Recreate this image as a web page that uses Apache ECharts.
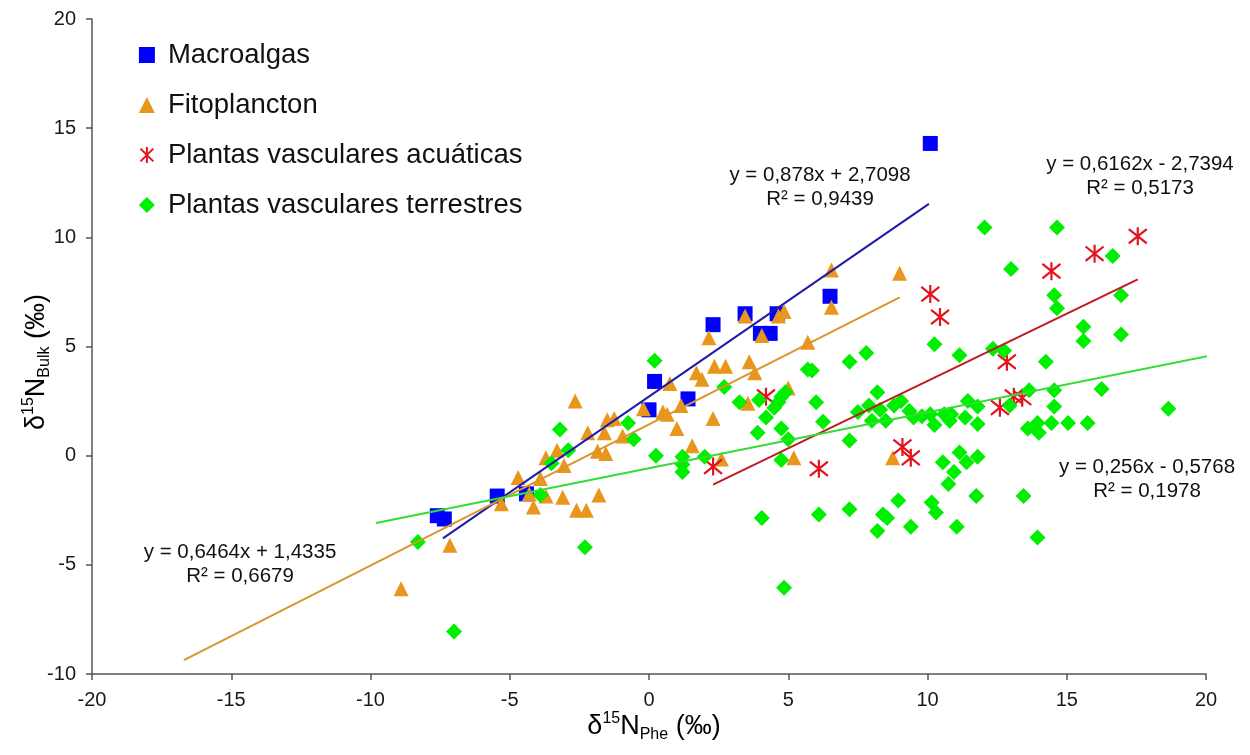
<!DOCTYPE html>
<html>
<head>
<meta charset="utf-8">
<script src="https://cdn.jsdelivr.net/npm/echarts@6/dist/echarts.min.js"></script>
<style>
  html, body { margin: 0; padding: 0; background: #fff; }
  #app { width: 1250px; height: 755px; }
</style>
</head>
<body>
<div id="app"></div>
<script>
// [δ15N Phe, δ15N Bulk]
const macroalgas = [
  [-7.6, -2.75], [-7.35, -2.9], [-5.45, -1.85], [-4.4, -1.75], [0.0, 2.1], [0.2, 3.4],
  [1.4, 2.6], [2.3, 6.0], [3.45, 6.5], [4.0, 5.6], [4.35, 5.6], [4.6, 6.5], [6.5, 7.3], [10.1, 14.3]
];
const fitoplancton = [
  [-8.9, -6.1], [-7.15, -4.1], [-5.3, -2.2], [-4.7, -1.0], [-4.3, -1.75], [-4.15, -2.35],
  [-3.9, -1.05], [-3.7, -1.85], [-3.7, -0.1], [-3.3, 0.25], [-3.05, -0.45], [-3.1, -1.9],
  [-2.65, 2.5], [-2.6, -2.5], [-2.25, -2.5], [-2.2, 1.05], [-1.85, 0.2], [-1.8, -1.8],
  [-1.6, 1.05], [-1.55, 0.1], [-1.5, 1.65], [-1.25, 1.7], [-0.95, 0.9], [-0.2, 2.15],
  [0.5, 2.0], [0.65, 1.9], [0.75, 3.3], [1.0, 1.25], [1.15, 2.3], [1.55, 0.45], [1.7, 3.8],
  [1.9, 3.5], [2.15, 5.4], [2.3, 1.7], [2.35, 4.1], [2.6, -0.15], [2.75, 4.1], [3.45, 6.4],
  [3.55, 2.4], [3.6, 4.3], [3.8, 3.8], [4.05, 5.5], [4.65, 6.4], [4.85, 6.6], [5.0, 3.1],
  [5.2, -0.1], [5.7, 5.2], [6.55, 8.5], [6.55, 6.8], [8.75, -0.1], [9.0, 8.35]
];
const acuaticas = [
  [2.3, -0.5], [4.2, 2.7], [6.1, -0.6], [9.1, 0.4], [9.4, -0.1], [10.1, 7.4], [10.45, 6.35],
  [12.6, 2.2], [12.85, 4.3], [13.1, 2.7], [13.4, 2.65], [14.45, 8.45], [16.0, 9.25], [17.55, 10.05]
];
const terrestres = [
  [-8.3, -3.95], [-7.0, -8.05], [-3.9, -1.8], [-3.5, -0.35], [-3.2, 1.2], [-2.9, 0.25],
  [-2.3, -4.2], [-0.75, 1.5], [-0.55, 0.75], [0.2, 4.35], [0.25, 0.0], [1.2, -0.05],
  [1.2, -0.4], [1.2, -0.75], [2.0, -0.05], [2.7, 3.15], [3.25, 2.45], [3.95, 2.55],
  [3.9, 1.05], [4.05, -2.85], [4.2, 1.75], [4.5, 2.2], [4.65, 2.45], [4.75, 2.7], [4.9, 2.9],
  [4.75, 1.25], [5.0, 0.75], [4.75, -0.2], [4.85, -6.05], [5.7, 3.95], [5.85, 3.9], [6.0, 2.45],
  [6.1, -2.7], [6.25, 1.55], [7.2, 4.3], [7.2, 0.7], [7.2, -2.45], [7.8, 4.7], [7.5, 2.0],
  [7.9, 2.3], [8.0, 1.6], [8.2, 2.9], [8.2, -3.45], [8.3, 2.1], [8.4, -2.7], [8.55, -2.85],
  [8.5, 1.6], [8.8, 2.3], [8.95, -2.05], [9.05, 2.5], [9.35, 2.05], [9.4, -3.25], [9.5, 1.75],
  [9.8, 1.8], [10.1, 1.9], [10.25, 1.4], [10.15, -2.15], [10.25, 5.1], [10.3, -2.6],
  [10.55, -0.3], [10.6, 1.9], [10.75, -1.3], [10.8, 1.6], [10.85, 1.9], [10.95, -0.75],
  [11.05, -3.25], [11.15, 4.6], [11.15, 0.15], [11.35, 1.75], [11.4, -0.3], [11.45, 2.5],
  [11.75, -1.85], [11.8, 2.25], [11.8, 1.45], [11.8, -0.05], [12.05, 10.45], [12.35, 4.9],
  [12.75, 4.8], [12.95, 2.3], [13.0, 8.55], [13.45, -1.85], [13.6, 1.25], [13.65, 3.0],
  [13.95, 1.5], [14.0, 1.05], [13.95, -3.75], [14.25, 4.3], [14.45, 1.5], [14.55, 3.0],
  [14.55, 2.25], [14.55, 7.35], [14.65, 6.75], [14.65, 10.45], [15.05, 1.5], [15.6, 5.9],
  [15.6, 5.25], [15.75, 1.5], [16.25, 3.05], [16.65, 9.15], [16.95, 7.35], [16.95, 5.55],
  [18.65, 2.15]
];

const seriesNames = ['Macroalgas', 'Fitoplancton', 'Plantas vasculares acuáticas', 'Plantas vasculares terrestres'];

// linear trend lines (order as seriesNames)
const trendSlope = [0.878, 0.6464, 0.6162, 0.256];
const trendIntercept = [2.7098, 1.4335, -2.7394, -0.5768];
const trendR2 = [0.9439, 0.6679, 0.5173, 0.1978];
const trendFrom = [-7.4, -16.7, 2.3, -9.8];
const trendTo = [10.05, 9.0, 17.55, 20.5];

const font = "'Liberation Sans', Arial, sans-serif";
const markColors = ['#0000ff', '#e8961c', '#e3141f', '#00ee00'];
const lineColors = ['#1c1ca8', '#d9962c', '#c01a22', '#33dd33'];
const eqPos = [[820, 187], [240, 564], [1140, 176], [1147, 479]];

const fmt = v => String(Math.abs(v)).replace('.', ',');
const eqText = i =>
  `y = ${fmt(trendSlope[i])}x ${trendIntercept[i] < 0 ? '-' : '+'} ${fmt(trendIntercept[i])}\nR² = ${fmt(trendR2[i])}`;

const trendLine = i => [trendFrom[i], trendTo[i]].map(x => [x, trendSlope[i] * x + trendIntercept[i]]);

const titleRich = {
  d: { fontSize: 27, lineHeight: 32, fontFamily: font, color: '#111' },
  sup: { fontSize: 16, lineHeight: 16, verticalAlign: 'top', fontFamily: font, color: '#111' },
  sub: { fontSize: 16, lineHeight: 16, verticalAlign: 'bottom', fontFamily: font, color: '#111' }
};

const axisCommon = {
  type: 'value',
  interval: 5,
  splitLine: { show: false },
  axisLine: { show: true, onZero: false, lineStyle: { color: '#555', width: 1.5 } },
  axisTick: { show: true, length: 6, lineStyle: { color: '#555', width: 1.5 } },
  axisLabel: { fontFamily: font, fontSize: 20, color: '#1a1a1a', margin: 16 }
};

const option = {
  animation: false,
  backgroundColor: '#fff',
  grid: { left: 92, right: 44, top: 19, bottom: 81 },
  xAxis: Object.assign({}, axisCommon, { min: -20, max: 20 }),
  yAxis: Object.assign({}, axisCommon, { min: -10, max: 20 }),
  legend: {
    orient: 'vertical',
    left: 138,
    top: 40,
    padding: 0,
    itemGap: 20,
    itemWidth: 16,
    itemHeight: 16,
    data: seriesNames,
    textStyle: { fontFamily: font, fontSize: 27.5, color: '#111', lineHeight: 30, padding: [0, 0, 0, 8] }
  },
  graphic: [
    {
      type: 'text', x: 37, y: 362, rotation: Math.PI / 2,
      style: { text: '{d|δ}{sup|15}{d|N}{sub|Bulk}{d| (‰)}', rich: titleRich, align: 'center', verticalAlign: 'middle' }
    },
    {
      type: 'text', x: 654, y: 727,
      style: { text: '{d|δ}{sup|15}{d|N}{sub|Phe}{d| (‰)}', rich: titleRich, align: 'center', verticalAlign: 'middle' }
    }
  ].concat(eqPos.map((p, i) => ({
    type: 'text', x: p[0], y: p[1], z: 10,
    style: { text: eqText(i), fontFamily: font, fontSize: 20.5, lineHeight: 24, fill: '#111', align: 'center', verticalAlign: 'middle' }
  }))),
  series: [
    { name: seriesNames[0], type: 'scatter', data: macroalgas, symbol: 'rect', symbolSize: 15,
      itemStyle: { color: markColors[0], opacity: 1 } },
    { name: seriesNames[1], type: 'scatter', data: fitoplancton, symbol: 'triangle', symbolSize: 15,
      itemStyle: { color: markColors[1], opacity: 1 } },
    { name: seriesNames[2], type: 'scatter', data: acuaticas,
      symbol: 'path://M1,1L9,9M9,1L1,9M5,0L5,10', symbolSize: 18,
      itemStyle: { color: 'none', borderColor: markColors[2], borderWidth: 2.2, opacity: 1 } },
    { name: seriesNames[3], type: 'scatter', data: terrestres, symbol: 'diamond', symbolSize: 16,
      itemStyle: { color: markColors[3], opacity: 1 } }
  ].concat(seriesNames.map((n, i) => ({
    name: n + ' (tendencia)', type: 'line', data: trendLine(i), symbol: 'none', silent: true, z: 5,
    lineStyle: { color: lineColors[i], width: 2 }
  })))
};

const chart = echarts.init(document.getElementById('app'));
chart.setOption(option);
</script>
</body>
</html>
